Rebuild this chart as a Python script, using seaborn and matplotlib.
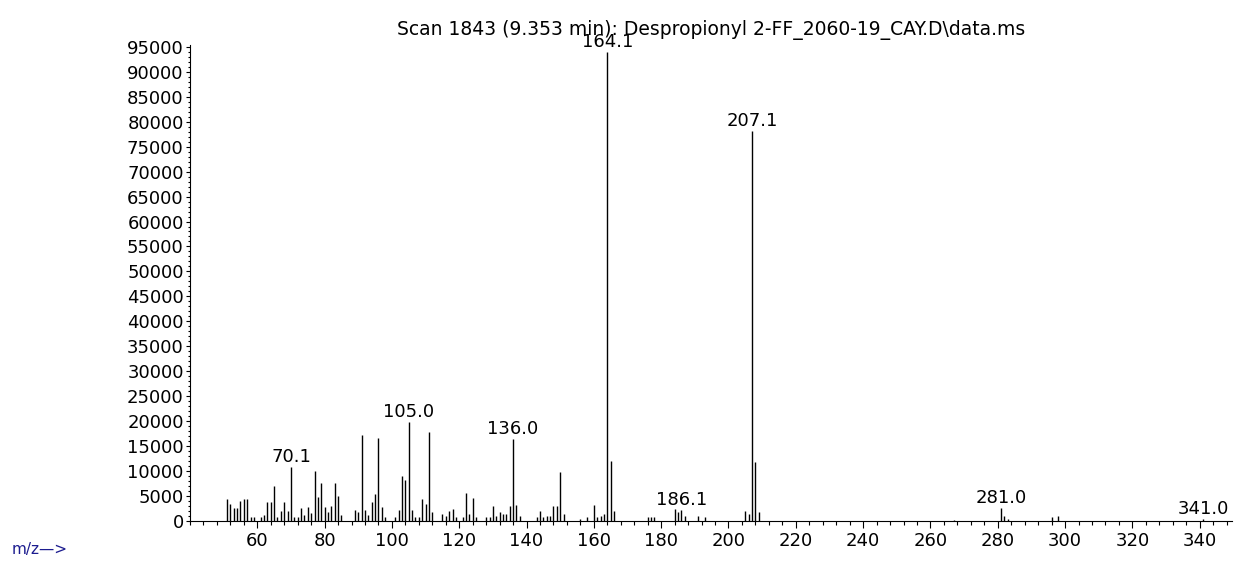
import numpy as np
import matplotlib
matplotlib.use("Agg")
import matplotlib.pyplot as plt
from matplotlib.ticker import MultipleLocator, FixedLocator
import seaborn as sns

# peak list (m/z, abundance)
mz = [51, 52, 53, 54, 55, 56, 57, 58, 59, 61, 62, 63, 64, 65, 66, 67, 68, 69, 70,
      71, 72, 73, 74, 75, 76, 77, 78, 79, 80, 81, 82, 83, 84, 85, 89, 90, 91, 92,
      93, 94, 95, 96, 97, 98, 101, 102, 103, 104, 105, 106, 107, 108, 109, 110,
      111, 112, 115, 116, 117, 118, 119, 121, 122, 123, 124, 125, 128, 129, 130,
      131, 132, 133, 134, 135, 136, 137, 138, 143, 144, 145, 146, 147, 148, 149,
      150, 151, 156, 158, 160, 161, 162, 163, 164, 165, 166, 176, 177, 178, 184,
      185, 186, 187, 191, 193, 205, 206, 207, 208, 209, 267, 281, 282, 283, 296,
      298, 341]
abundance = [4340, 3340, 2470, 2470, 4000, 4340, 4340, 800, 800, 800, 1140, 3670,
             3670, 6880, 800, 2000, 3670, 2000, 10690, 800, 800, 2470, 1140, 2800,
             1470, 10020, 4680, 7480, 2800, 1800, 3000, 7480, 5010, 1140, 2140,
             1800, 17170, 2140, 1140, 3670, 5340, 16500, 2800, 800, 800, 2140, 9020,
             8220, 19700, 2140, 800, 800, 4340, 3340, 17840, 1700, 1340, 1000, 2000,
             2340, 670, 670, 5540, 1340, 4540, 670, 670, 670, 2870, 1000, 1670, 1340,
             1340, 2870, 16370, 3210, 1000, 670, 2000, 670, 1000, 1000, 2870, 2870,
             9690, 1340, 330, 670, 3210, 670, 1000, 1340, 94000, 11900, 2000, 670,
             670, 670, 2340, 1670, 2250, 1000, 1000, 670, 2000, 1340, 78100, 11700,
             1670, 200, 2600, 870, 330, 670, 1000, 330]

label_peaks = [70, 105, 136, 164, 186, 207, 281, 341]
label_texts = ["70.1", "105.0", "136.0", "164.1", "186.1", "207.1", "281.0", "341.0"]

title = "Scan 1843 (9.353 min): Despropionyl 2-FF_2060-19_CAY.D\\data.ms"

sns.set_style("ticks")
plt.rcParams['font.family'] = ['DejaVu Sans']
plt.rcParams.update({"text.color": "black", "axes.edgecolor": "black",
                     "xtick.color": "black", "ytick.color": "black",
                     "axes.labelcolor": "black"})

fig, ax = plt.subplots(figsize=(12.36, 5.61), dpi=100)
fig.subplots_adjust(left=0.1537, right=0.9965, bottom=0.0718, top=0.9198)

ax.vlines(mz, 0, abundance, color="black", linewidth=1.0)

peak_height = dict(zip(mz, abundance))
for p, t in zip(label_peaks, label_texts):
    ax.annotate(t, xy=(p, peak_height[p]), xytext=(0, 3.6), textcoords="offset points",
                ha="center", va="baseline", fontsize=13)

ax.set_xlim(40, 349.5)
ax.set_ylim(0, 95400)

ax.xaxis.set_major_locator(FixedLocator(np.arange(60, 341, 20)))
ax.xaxis.set_minor_locator(MultipleLocator(4))
ax.yaxis.set_major_locator(MultipleLocator(5000))
ax.yaxis.set_minor_locator(MultipleLocator(1000))

ax.tick_params(axis="x", which="major", length=5, width=0.8, pad=3, labelsize=13)
ax.tick_params(axis="x", which="minor", length=2.8, width=0.8)
ax.tick_params(axis="y", which="major", length=3, width=0.8, pad=1.5, labelsize=13)
ax.tick_params(axis="y", which="minor", length=1.5, width=0.8)

sns.despine(ax=ax)
for s in ("left", "bottom"):
    ax.spines[s].set_linewidth(0.8)

ax.set_title(title, fontsize=13.5, pad=7)
fig.text(0.0097, 0.013, "m/z\u2014>", color="#1c1c8f", fontsize=11)

fig.savefig("out.png", dpi=100)
